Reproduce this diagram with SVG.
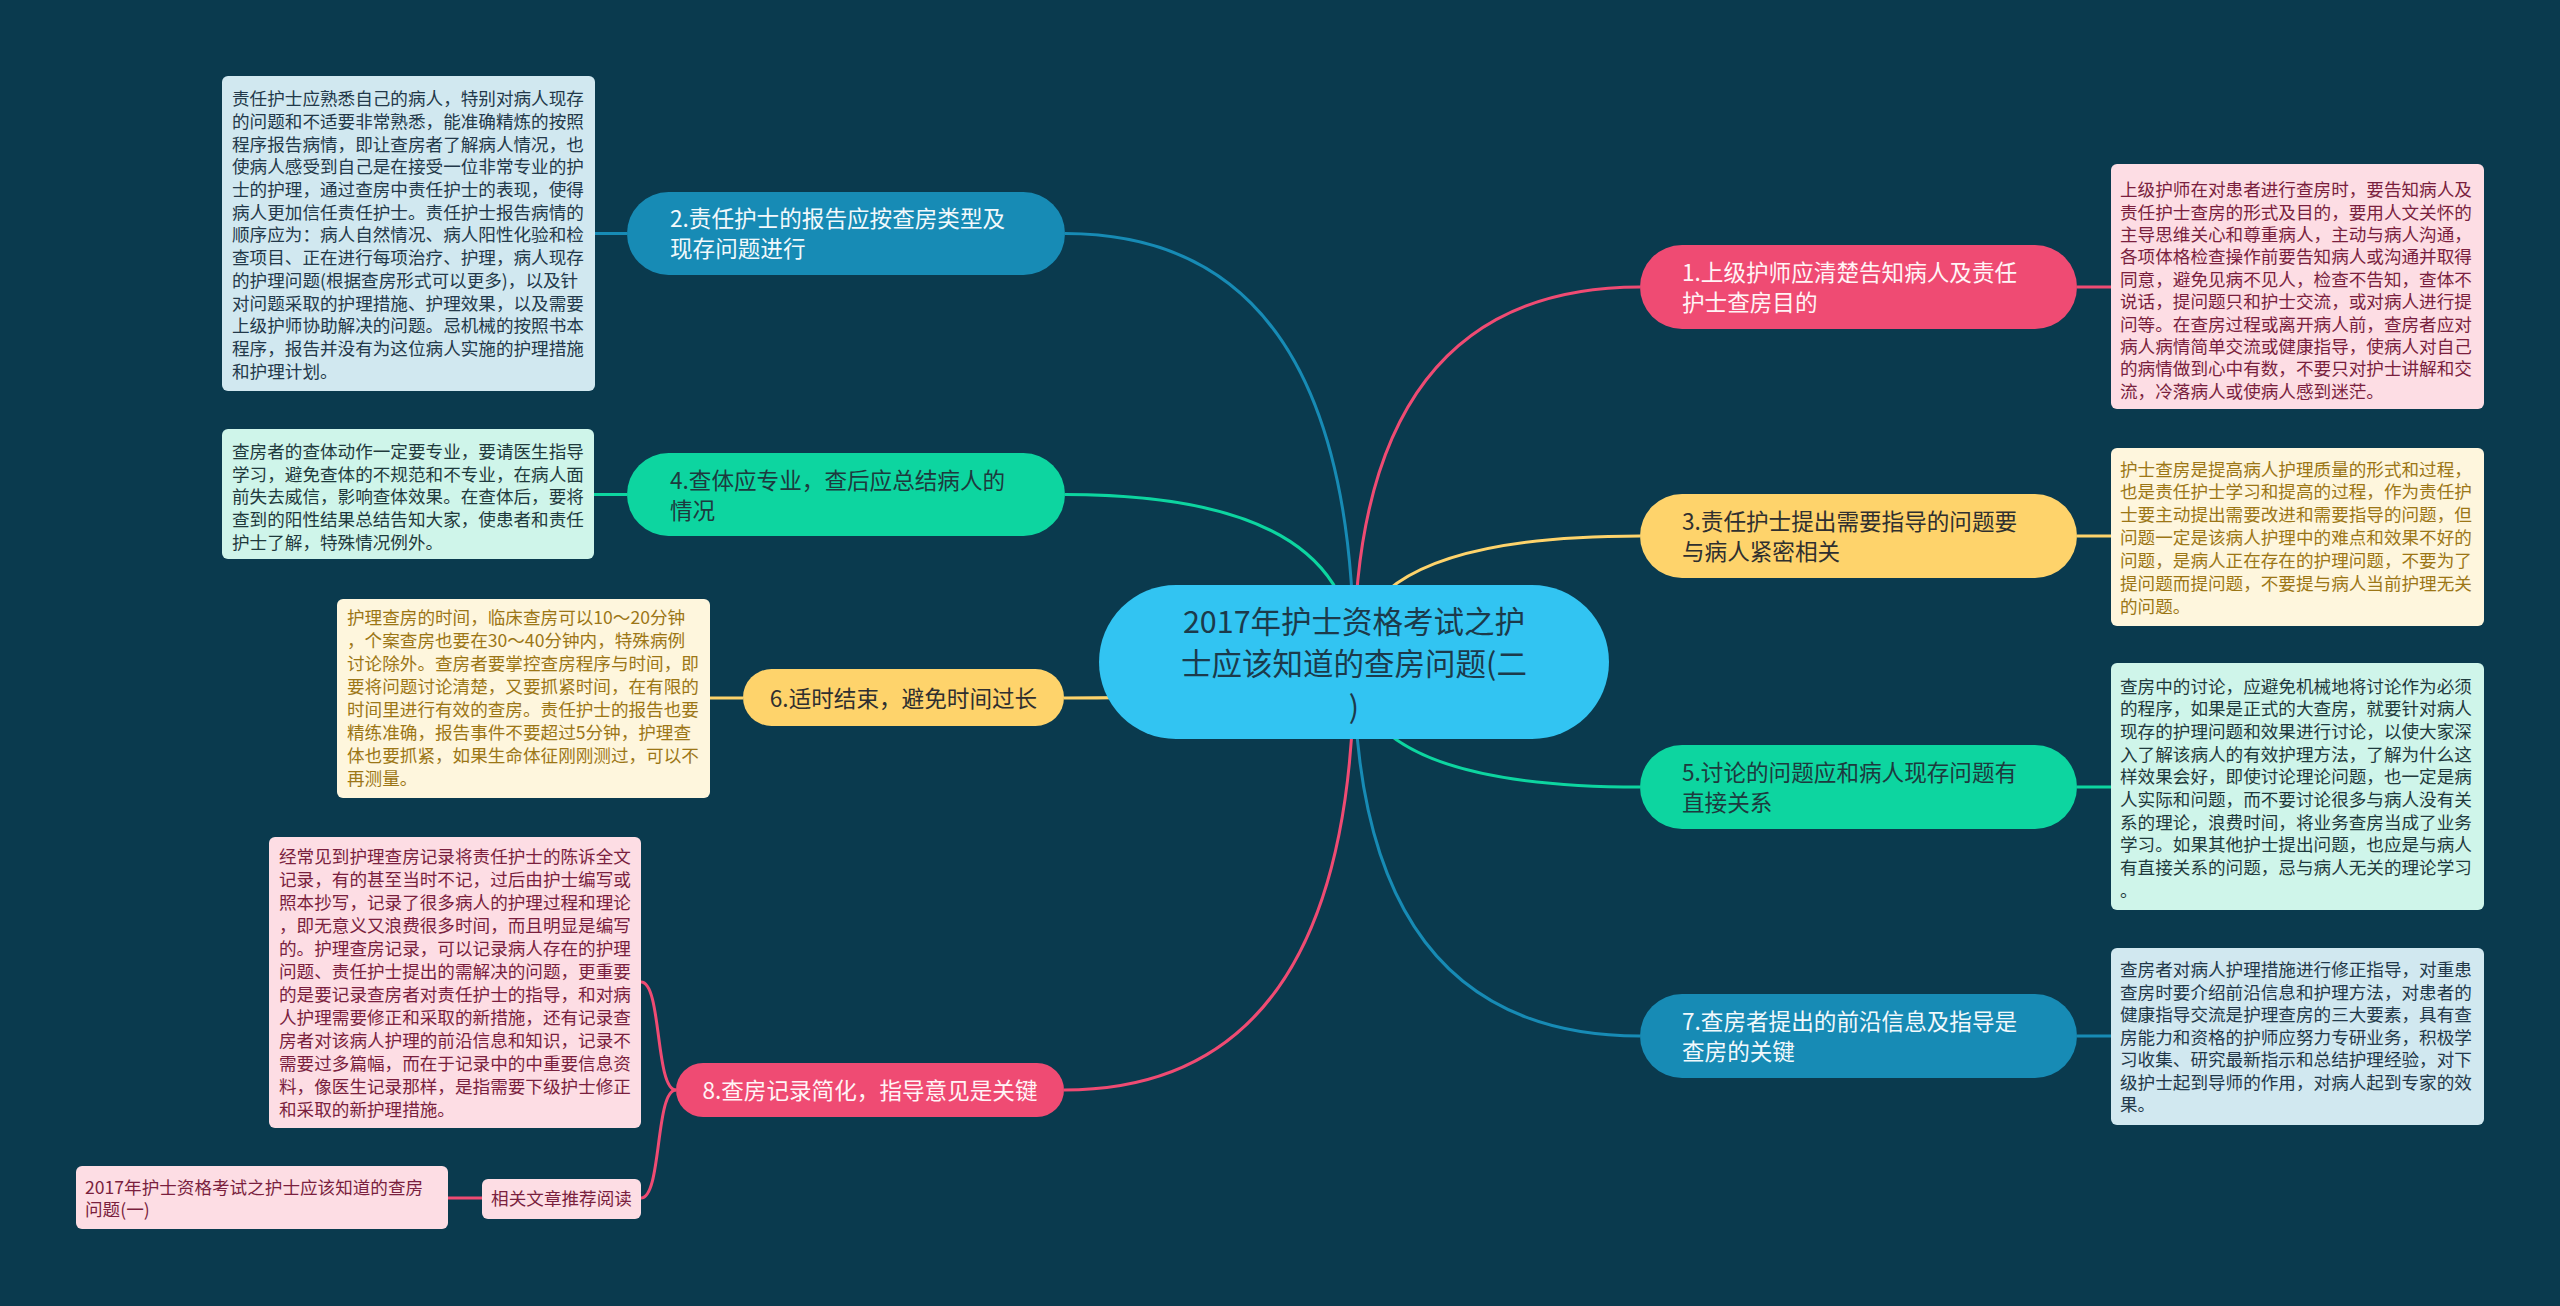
<svg xmlns="http://www.w3.org/2000/svg" width="2560" height="1306" viewBox="0 0 2560 1306">
<style>
text{font-family:"Noto Sans CJK SC","Noto Sans",sans-serif}
.dt{font-size:17.6px}
.nt{font-size:22.6px}
.ct{font-size:30.5px;fill:#1c3a4b}
.c{fill:none;stroke-width:3}
.bx{stroke:none}
</style>
<rect width="2560" height="1306" fill="#0a3a4e"/>
<g id="connectors">
<path class="c" stroke="#178bb5" d="M1354 662 Q1354 233.5 1065 233.5"/>
<path class="c" stroke="#0dd5a0" d="M1354 662 Q1354 494.5 1065 494.5"/>
<path class="c" stroke="#fed36b" d="M1354 662 Q1354 698 1064 698"/>
<path class="c" stroke="#ef4b73" d="M1354 662 Q1354 1090 1064 1090"/>
<path class="c" stroke="#ef4b73" d="M1354 662 Q1354 287 1640 287"/>
<path class="c" stroke="#fed36b" d="M1354 662 Q1354 536 1640 536"/>
<path class="c" stroke="#0dd5a0" d="M1354 662 Q1354 787 1640 787"/>
<path class="c" stroke="#178bb5" d="M1354 662 Q1354 1036 1640 1036"/>
<path class="c" stroke="#178bb5" d="M627 233.5 L595 233.5"/>
<path class="c" stroke="#0dd5a0" d="M627 494.5 L594 494.5"/>
<path class="c" stroke="#fed36b" d="M743 698 L710 698"/>
<path class="c" stroke="#ef4b73" d="M676 1090 C655 1090 662 982 641 982"/>
<path class="c" stroke="#ef4b73" d="M676 1090 C655 1090 662 1198 641 1198"/>
<path class="c" stroke="#ef4b73" d="M482 1198 L448 1198"/>
<path class="c" stroke="#ef4b73" d="M2077 287 L2111 287"/>
<path class="c" stroke="#fed36b" d="M2077 536 L2111 536"/>
<path class="c" stroke="#0dd5a0" d="M2077 787 L2111 787"/>
<path class="c" stroke="#178bb5" d="M2077 1036 L2111 1036"/>
</g>
<g id="center">
<rect x="1099" y="585" width="510" height="154" rx="77" fill="#32c4f2"/>
<text class="ct" text-anchor="middle"><tspan x="1354" y="632.6">2017年护士资格考试之护</tspan><tspan x="1354" y="675">士应该知道的查房问题(二</tspan><tspan x="1354" y="717.5">)</tspan></text>
</g>
<g id="n2">
<rect x="627" y="192" width="438" height="83" rx="41.5" fill="#178bb5"/>
<text class="nt" fill="#f2f9fc"><tspan x="670" y="226.6">2.责任护士的报告应按查房类型及</tspan><tspan x="670" y="256.6">现存问题进行</tspan></text>
</g>
<g id="n4">
<rect x="627" y="453" width="438" height="83" rx="41.5" fill="#0dd5a0"/>
<text class="nt" fill="#1d3a3e"><tspan x="670" y="488.6">4.查体应专业，查后应总结病人的</tspan><tspan x="670" y="518.6">情况</tspan></text>
</g>
<g id="n6">
<rect x="743" y="669" width="321" height="57" rx="28.5" fill="#fed36b"/>
<text class="nt" fill="#2f2f2f" text-anchor="middle" x="903.5" y="706.6">6.适时结束，避免时间过长</text>
</g>
<g id="n8">
<rect x="676" y="1063" width="388" height="54" rx="27" fill="#ef4b73"/>
<text class="nt" fill="#fff4f6" text-anchor="middle" x="870" y="1098.6">8.查房记录简化，指导意见是关键</text>
</g>
<g id="n1">
<rect x="1640" y="245" width="437" height="84" rx="42" fill="#ef4b73"/>
<text class="nt" fill="#fff4f6"><tspan x="1682" y="280.6">1.上级护师应清楚告知病人及责任</tspan><tspan x="1682" y="310.6">护士查房目的</tspan></text>
</g>
<g id="n3">
<rect x="1640" y="494" width="437" height="84" rx="42" fill="#fed36b"/>
<text class="nt" fill="#2f2f2f"><tspan x="1682" y="529.6">3.责任护士提出需要指导的问题要</tspan><tspan x="1682" y="559.6">与病人紧密相关</tspan></text>
</g>
<g id="n5">
<rect x="1640" y="745" width="437" height="84" rx="42" fill="#0dd5a0"/>
<text class="nt" fill="#1d3a3e"><tspan x="1682" y="780.6">5.讨论的问题应和病人现存问题有</tspan><tspan x="1682" y="810.6">直接关系</tspan></text>
</g>
<g id="n7">
<rect x="1640" y="994" width="437" height="84" rx="42" fill="#178bb5"/>
<text class="nt" fill="#f2f9fc"><tspan x="1682" y="1029.6">7.查房者提出的前沿信息及指导是</tspan><tspan x="1682" y="1059.6">查房的关键</tspan></text>
</g>
<g id="d2">
<rect x="222" y="76" width="373" height="315" rx="6" fill="#d1e8f0"/>
<text class="dt" fill="#23394a">
<tspan x="232" y="105.2">责任护士应熟悉自己的病人，特别对病人现存</tspan>
<tspan x="232" dy="22.7">的问题和不适要非常熟悉，能准确精炼的按照</tspan>
<tspan x="232" dy="22.7">程序报告病情，即让查房者了解病人情况，也</tspan>
<tspan x="232" dy="22.7">使病人感受到自己是在接受一位非常专业的护</tspan>
<tspan x="232" dy="22.7">士的护理，通过查房中责任护士的表现，使得</tspan>
<tspan x="232" dy="22.7">病人更加信任责任护士。责任护士报告病情的</tspan>
<tspan x="232" dy="22.7">顺序应为：病人自然情况、病人阳性化验和检</tspan>
<tspan x="232" dy="22.7">查项目、正在进行每项治疗、护理，病人现存</tspan>
<tspan x="232" dy="22.7">的护理问题(根据查房形式可以更多)，以及针</tspan>
<tspan x="232" dy="22.7">对问题采取的护理措施、护理效果，以及需要</tspan>
<tspan x="232" dy="22.7">上级护师协助解决的问题。忌机械的按照书本</tspan>
<tspan x="232" dy="22.7">程序，报告并没有为这位病人实施的护理措施</tspan>
<tspan x="232" dy="22.7">和护理计划。</tspan>
</text>
</g>
<g id="d4">
<rect x="222" y="429" width="372" height="130" rx="6" fill="#cff5ea"/>
<text class="dt" fill="#1f3a3d">
<tspan x="232" y="457.8">查房者的查体动作一定要专业，要请医生指导</tspan>
<tspan x="232" dy="22.7">学习，避免查体的不规范和不专业，在病人面</tspan>
<tspan x="232" dy="22.7">前失去威信，影响查体效果。在查体后，要将</tspan>
<tspan x="232" dy="22.7">查到的阳性结果总结告知大家，使患者和责任</tspan>
<tspan x="232" dy="22.7">护士了解，特殊情况例外。</tspan>
</text>
</g>
<g id="d6">
<rect x="337" y="599" width="373" height="199" rx="6" fill="#fef6dd"/>
<text class="dt" fill="#9c7616">
<tspan x="347" y="623.5">护理查房的时间，临床查房可以10～20分钟</tspan>
<tspan x="347" dy="23">，个案查房也要在30～40分钟内，特殊病例</tspan>
<tspan x="347" dy="23">讨论除外。查房者要掌控查房程序与时间，即</tspan>
<tspan x="347" dy="23">要将问题讨论清楚，又要抓紧时间，在有限的</tspan>
<tspan x="347" dy="23">时间里进行有效的查房。责任护士的报告也要</tspan>
<tspan x="347" dy="23">精练准确，报告事件不要超过5分钟，护理查</tspan>
<tspan x="347" dy="23">体也要抓紧，如果生命体征刚刚测过，可以不</tspan>
<tspan x="347" dy="23">再测量。</tspan>
</text>
</g>
<g id="d8">
<rect x="269" y="837" width="372" height="291" rx="6" fill="#fddde4"/>
<text class="dt" fill="#7a1f3e">
<tspan x="279" y="863.2">经常见到护理查房记录将责任护士的陈诉全文</tspan>
<tspan x="279" dy="23">记录，有的甚至当时不记，过后由护士编写或</tspan>
<tspan x="279" dy="23">照本抄写，记录了很多病人的护理过程和理论</tspan>
<tspan x="279" dy="23">，即无意义又浪费很多时间，而且明显是编写</tspan>
<tspan x="279" dy="23">的。护理查房记录，可以记录病人存在的护理</tspan>
<tspan x="279" dy="23">问题、责任护士提出的需解决的问题，更重要</tspan>
<tspan x="279" dy="23">的是要记录查房者对责任护士的指导，和对病</tspan>
<tspan x="279" dy="23">人护理需要修正和采取的新措施，还有记录查</tspan>
<tspan x="279" dy="23">房者对该病人护理的前沿信息和知识，记录不</tspan>
<tspan x="279" dy="23">需要过多篇幅，而在于记录中的中重要信息资</tspan>
<tspan x="279" dy="23">料，像医生记录那样，是指需要下级护士修正</tspan>
<tspan x="279" dy="23">和采取的新护理措施。</tspan>
</text>
</g>
<g id="rel">
<rect x="482" y="1179" width="159" height="40" rx="6" fill="#fddde4"/>
<text class="dt" fill="#7a1f3e" text-anchor="middle" x="561.5" y="1204.5">相关文章推荐阅读</text>
</g>
<g id="rel1">
<rect x="76" y="1166" width="372" height="63" rx="6" fill="#fddde4"/>
<text class="dt" fill="#7a1f3e"><tspan x="85" y="1193.5">2017年护士资格考试之护士应该知道的查房</tspan><tspan x="85" dy="22.7">问题(一)</tspan></text>
</g>
<g id="r1">
<rect x="2111" y="164" width="373" height="245" rx="6" fill="#fddde4"/>
<text class="dt" fill="#7a1f3e">
<tspan x="2120" y="196.2">上级护师在对患者进行查房时，要告知病人及</tspan>
<tspan x="2120" dy="22.4">责任护士查房的形式及目的，要用人文关怀的</tspan>
<tspan x="2120" dy="22.4">主导思维关心和尊重病人，主动与病人沟通，</tspan>
<tspan x="2120" dy="22.4">各项体格检查操作前要告知病人或沟通并取得</tspan>
<tspan x="2120" dy="22.4">同意，避免见病不见人，检查不告知，查体不</tspan>
<tspan x="2120" dy="22.4">说话，提问题只和护士交流，或对病人进行提</tspan>
<tspan x="2120" dy="22.4">问等。在查房过程或离开病人前，查房者应对</tspan>
<tspan x="2120" dy="22.4">病人病情简单交流或健康指导，使病人对自己</tspan>
<tspan x="2120" dy="22.4">的病情做到心中有数，不要只对护士讲解和交</tspan>
<tspan x="2120" dy="22.4">流，冷落病人或使病人感到迷茫。</tspan>
</text>
</g>
<g id="r3">
<rect x="2111" y="448" width="373" height="178" rx="6" fill="#fef6dd"/>
<text class="dt" fill="#9c7616">
<tspan x="2120" y="475.5">护士查房是提高病人护理质量的形式和过程，</tspan>
<tspan x="2120" dy="22.9">也是责任护士学习和提高的过程，作为责任护</tspan>
<tspan x="2120" dy="22.9">士要主动提出需要改进和需要指导的问题，但</tspan>
<tspan x="2120" dy="22.9">问题一定是该病人护理中的难点和效果不好的</tspan>
<tspan x="2120" dy="22.9">问题，是病人正在存在的护理问题，不要为了</tspan>
<tspan x="2120" dy="22.9">提问题而提问题，不要提与病人当前护理无关</tspan>
<tspan x="2120" dy="22.9">的问题。</tspan>
</text>
</g>
<g id="r5">
<rect x="2111" y="663" width="373" height="247" rx="6" fill="#cff5ea"/>
<text class="dt" fill="#1f3a3d">
<tspan x="2120" y="692.5">查房中的讨论，应避免机械地将讨论作为必须</tspan>
<tspan x="2120" dy="22.7">的程序，如果是正式的大查房，就要针对病人</tspan>
<tspan x="2120" dy="22.7">现存的护理问题和效果进行讨论，以使大家深</tspan>
<tspan x="2120" dy="22.7">入了解该病人的有效护理方法，了解为什么这</tspan>
<tspan x="2120" dy="22.7">样效果会好，即使讨论理论问题，也一定是病</tspan>
<tspan x="2120" dy="22.7">人实际和问题，而不要讨论很多与病人没有关</tspan>
<tspan x="2120" dy="22.7">系的理论，浪费时间，将业务查房当成了业务</tspan>
<tspan x="2120" dy="22.7">学习。如果其他护士提出问题，也应是与病人</tspan>
<tspan x="2120" dy="22.7">有直接关系的问题，忌与病人无关的理论学习</tspan>
<tspan x="2120" dy="22.7">。</tspan>
</text>
</g>
<g id="r7">
<rect x="2111" y="948" width="373" height="177" rx="6" fill="#d1e8f0"/>
<text class="dt" fill="#23394a">
<tspan x="2120" y="976.2">查房者对病人护理措施进行修正指导，对重患</tspan>
<tspan x="2120" dy="22.5">查房时要介绍前沿信息和护理方法，对患者的</tspan>
<tspan x="2120" dy="22.5">健康指导交流是护理查房的三大要素，具有查</tspan>
<tspan x="2120" dy="22.5">房能力和资格的护师应努力专研业务，积极学</tspan>
<tspan x="2120" dy="22.5">习收集、研究最新指示和总结护理经验，对下</tspan>
<tspan x="2120" dy="22.5">级护士起到导师的作用，对病人起到专家的效</tspan>
<tspan x="2120" dy="22.5">果。</tspan>
</text>
</g>
</svg>
